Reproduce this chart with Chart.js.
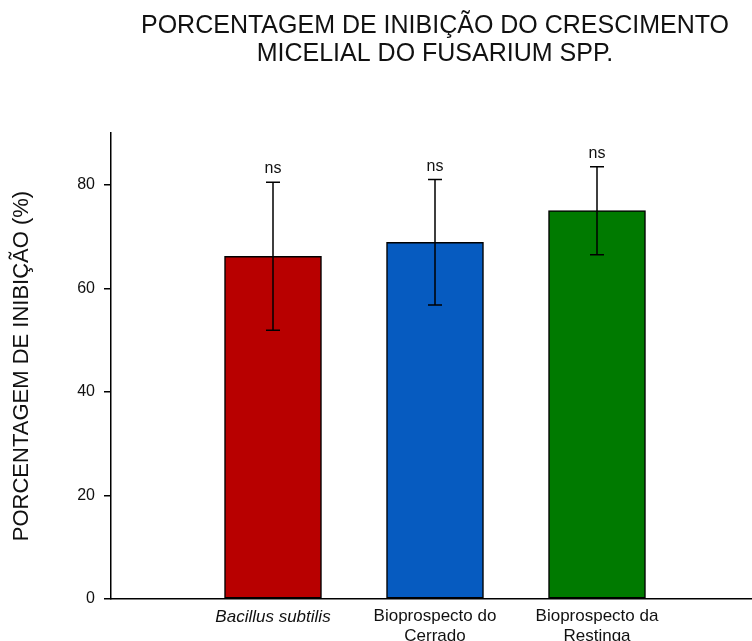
<!DOCTYPE html>
<html>
<head>
<meta charset="utf-8">
<script src="https://cdn.jsdelivr.net/npm/chart.js@4.4.1/dist/chart.umd.min.js"></script>
<style>
  html, body { margin: 0; padding: 0; background: #fff; overflow: hidden; }
  #wrap { width: 752px; height: 641px; overflow: hidden; }
</style>
</head>
<body>
<div id="wrap"><canvas id="chart" width="770" height="641"></canvas></div>
<script>
// Tratamentos e médias de inibição (%) com desvio padrão
const categories = ['Bacillus subtilis', ['Bioprospecto do', 'Cerrado'], ['Bioprospecto da', 'Restinga']];
const means      = [66.2, 68.9, 75.0];
const deviations = [14.3, 12.1, 8.5];
const marks      = ['ns', 'ns', 'ns'];
const colors     = ['#b80000', '#065bc0', '#007a00'];
const yTicks     = [0, 20, 40, 60, 80];

const FONT = "'Liberation Sans', Arial, sans-serif";

// slots vazios nas pontas para deixar o espaço antes e depois das barras
const labels   = ['', ...categories, ''];
const barData  = [null, ...means, null];
const barColor = ['#fff', ...colors, '#fff'];

// Barras de erro + marcação de significância
const errorBars = {
  id: 'errorBars',
  afterDatasetsDraw(chart) {
    const { ctx, scales: { x, y } } = chart;
    ctx.save();
    ctx.strokeStyle = '#000';
    ctx.lineWidth = 1.5;
    ctx.fillStyle = '#111';
    ctx.font = `16px ${FONT}`;
    ctx.textAlign = 'center';
    ctx.textBaseline = 'alphabetic';
    means.forEach((m, i) => {
      const px  = Math.round(x.getPixelForValue(i + 1));
      const top = y.getPixelForValue(m + deviations[i]);
      const bot = y.getPixelForValue(m - deviations[i]);
      ctx.beginPath();
      ctx.moveTo(px, top); ctx.lineTo(px, bot);
      ctx.moveTo(px - 7, top); ctx.lineTo(px + 7, top);
      ctx.moveTo(px - 7, bot); ctx.lineTo(px + 7, bot);
      ctx.stroke();
      ctx.fillText(marks[i], px, top - 9);
    });
    ctx.restore();
  }
};

new Chart(document.getElementById('chart'), {
  type: 'bar',
  data: {
    labels,
    datasets: [{
      data: barData,
      backgroundColor: barColor,
      borderColor: '#000',
      borderWidth: 1.5,
      borderSkipped: false,
      barThickness: 97,
    }],
  },
  options: {
    responsive: false,
    animation: false,
    devicePixelRatio: 1,
    layout: { padding: { left: 0, right: 11, top: 0, bottom: 0 } },
    plugins: {
      legend: { display: false },
      tooltip: { enabled: false },
      title: {
        display: true,
        fullSize: false,
        text: ['PORCENTAGEM DE INIBIÇÃO DO CRESCIMENTO', 'MICELIAL DO FUSARIUM SPP.'],
        color: '#111',
        font: { family: FONT, size: 25, weight: 'normal', lineHeight: 1.12 },
        padding: { top: 12, bottom: 65 },
      },
    },
    scales: {
      x: {
        type: 'category',
        offset: false,
        grid: { display: false, drawTicks: false },
        border: { display: true, color: '#000', width: 1.5 },
        ticks: {
          color: '#111',
          padding: 8,
          maxRotation: 0,
          autoSkip: false,
          font: (c) => ({ family: FONT, size: 17, style: c.index === 1 ? 'italic' : 'normal', lineHeight: 1.15 }),
        },
        afterFit: (s) => { s.height = 42; },
      },
      y: {
        min: 0,
        max: 90,
        border: { display: true, color: '#000', width: 1.5 },
        grid: { drawOnChartArea: false, drawTicks: true, tickLength: 7, color: '#000', lineWidth: 1.5 },
        ticks: {
          stepSize: 20,
          includeBounds: false,
          padding: 9,
          color: '#111',
          font: { family: FONT, size: 16 },
        },
        afterBuildTicks: (s) => { s.ticks = yTicks.map(v => ({ value: v })); },
        title: {
          display: true,
          text: 'PORCENTAGEM DE INIBIÇÃO (%)',
          color: '#111',
          font: { family: FONT, size: 22, weight: 'normal', lineHeight: 1.2 },
          padding: { top: 9, bottom: 0 },
        },
        afterFit: (s) => { s.width = 111; },
      },
    },
  },
  plugins: [errorBars],
});
</script>
</body>
</html>
